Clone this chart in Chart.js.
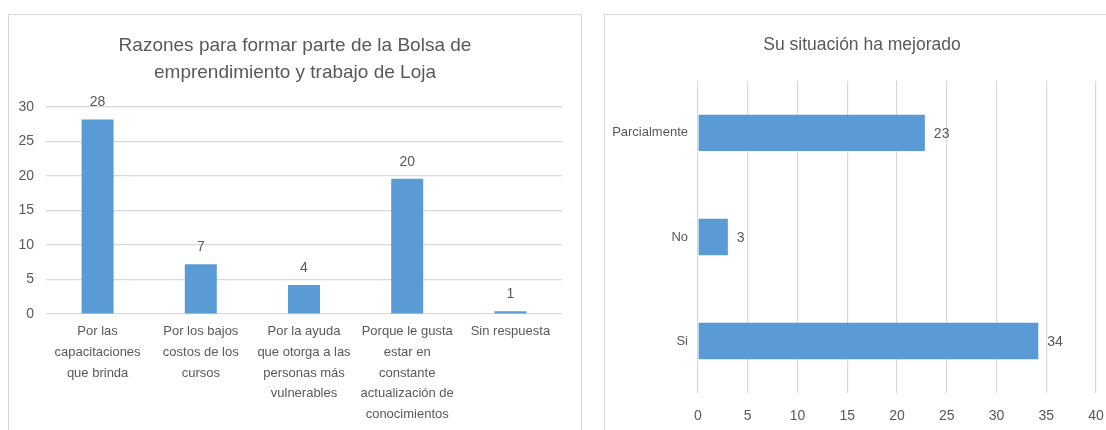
<!DOCTYPE html>
<html>
<head>
<meta charset="utf-8">
<script src="https://cdn.jsdelivr.net/npm/chart.js@4.4.1/dist/chart.umd.min.js"></script>
<style>
  body { margin: 0; background: #fff; width: 1106px; height: 430px; overflow: hidden; position: relative; }
  .panel { position: absolute; border: 1px solid #d9d9d9; background: #fff; }
  #leftPanel { left: 8px; top: 14px; width: 572px; height: 430px; }
  #rightPanel { left: 604px; top: 14px; width: 520px; height: 430px; }
  canvas { display: block; }
</style>
</head>
<body>
<div class="panel" id="leftPanel"><canvas id="razones" width="572" height="415"></canvas></div>
<div class="panel" id="rightPanel"><canvas id="situacion" width="514" height="415"></canvas></div>
<script>
// Left chart data
const razonesTitle = ["Razones para formar parte de la Bolsa de", "emprendimiento y trabajo de Loja"];
const razonesLabels = [
  ["Por las", "capacitaciones", "que brinda"],
  ["Por los bajos", "costos de los", "cursos"],
  ["Por la ayuda", "que otorga a las", "personas más", "vulnerables"],
  ["Porque le gusta", "estar en", "constante", "actualización de", "conocimientos"],
  ["Sin respuesta"]
];
const razonesValues = [28.2, 7.2, 4.2, 19.6, 0.4];
const razonesValueText = ["28", "7", "4", "20", "1"];
const razonesTicks = [0, 5, 10, 15, 20, 25, 30];

// Right chart data
const situacionTitle = "Su situación ha mejorado";
const situacionLabels = ["Parcialmente", "No", "Si"];
const situacionValues = [22.8, 3.0, 34.2];
const situacionValueText = ["23", "3", "34"];
const situacionTicks = [0, 5, 10, 15, 20, 25, 30, 35, 40];

const FONT = "'Liberation Sans Narrow', 'Arial Narrow', 'Liberation Sans', Arial, sans-serif";
const TEXT = "#595959";
const GRID = "#d9d9d9";
const BAR = "#5b9bd5";

Chart.defaults.font.family = FONT;
Chart.defaults.color = TEXT;

// draws the value text next to each bar
const valueLabels = {
  id: "valueLabels",
  afterDatasetsDraw(chart) {
    const ctx = chart.ctx;
    const ds = chart.data.datasets[0];
    const horizontal = chart.options.indexAxis === "y";
    ctx.save();
    ctx.font = "14px " + FONT;
    ctx.fillStyle = TEXT;
    chart.getDatasetMeta(0).data.forEach((bar, i) => {
      const txt = ds.valueText[i];
      if (horizontal) {
        ctx.textAlign = "left";
        ctx.textBaseline = "middle";
        ctx.fillText(txt, bar.x + 9, bar.y + 1);
      } else {
        ctx.textAlign = "center";
        ctx.textBaseline = "alphabetic";
        ctx.fillText(txt, bar.x, bar.y - 13);
      }
    });
    ctx.restore();
  }
};

new Chart(document.getElementById("razones"), {
  type: "bar",
  data: {
    labels: razonesLabels,
    datasets: [{
      data: razonesValues,
      valueText: razonesValueText,
      backgroundColor: BAR,
      barPercentage: 0.31,
      categoryPercentage: 1
    }]
  },
  options: {
    responsive: false,
    animation: false,
    layout: { padding: 0 },
    plugins: {
      legend: { display: false },
      tooltip: { enabled: false },
      title: {
        display: true,
        text: razonesTitle,
        color: TEXT,
        font: { size: 19, weight: "normal", lineHeight: 1.42 },
        padding: { top: 17, bottom: 21 }
      }
    },
    scales: {
      x: {
        grid: { display: false, drawTicks: false },
        border: { display: false },
        ticks: { font: { size: 13, lineHeight: 1.6 }, padding: 7, maxRotation: 0, autoSkip: false },
        afterFit: (s) => { s.height = 116; s.paddingRight = 19; }
      },
      y: {
        min: 0,
        max: 30,
        afterBuildTicks: (s) => { s.ticks = razonesTicks.map((v) => ({ value: v })); },
        grid: { color: GRID, drawTicks: false, lineWidth: 1.2 },
        border: { display: false },
        ticks: { font: { size: 14 }, padding: 12 },
        afterFit: (s) => { s.width = 37; }
      }
    }
  },
  plugins: [valueLabels]
});

new Chart(document.getElementById("situacion"), {
  type: "bar",
  data: {
    labels: situacionLabels,
    datasets: [{
      data: situacionValues,
      valueText: situacionValueText,
      backgroundColor: BAR,
      barPercentage: 0.35,
      categoryPercentage: 1
    }]
  },
  options: {
    indexAxis: "y",
    responsive: false,
    animation: false,
    layout: { padding: 0 },
    plugins: {
      legend: { display: false },
      tooltip: { enabled: false },
      title: {
        display: true,
        text: situacionTitle,
        color: TEXT,
        font: { size: 17.5, weight: "normal", lineHeight: 1.42 },
        padding: { top: 18, bottom: 23 }
      }
    },
    scales: {
      x: {
        min: 0,
        max: 40,
        afterBuildTicks: (s) => { s.ticks = situacionTicks.map((v) => ({ value: v })); },
        grid: { color: GRID, drawTicks: false, lineWidth: 1.2 },
        border: { display: false },
        ticks: { font: { size: 14 }, padding: 15, maxRotation: 0 },
        afterFit: (s) => { s.height = 37; s.paddingRight = 23; }
      },
      y: {
        grid: { display: false, drawTicks: false },
        border: { display: false },
        ticks: { font: { size: 13 }, padding: 10 },
        afterFit: (s) => { s.width = 93; }
      }
    }
  },
  plugins: [valueLabels]
});
</script>
</body>
</html>
